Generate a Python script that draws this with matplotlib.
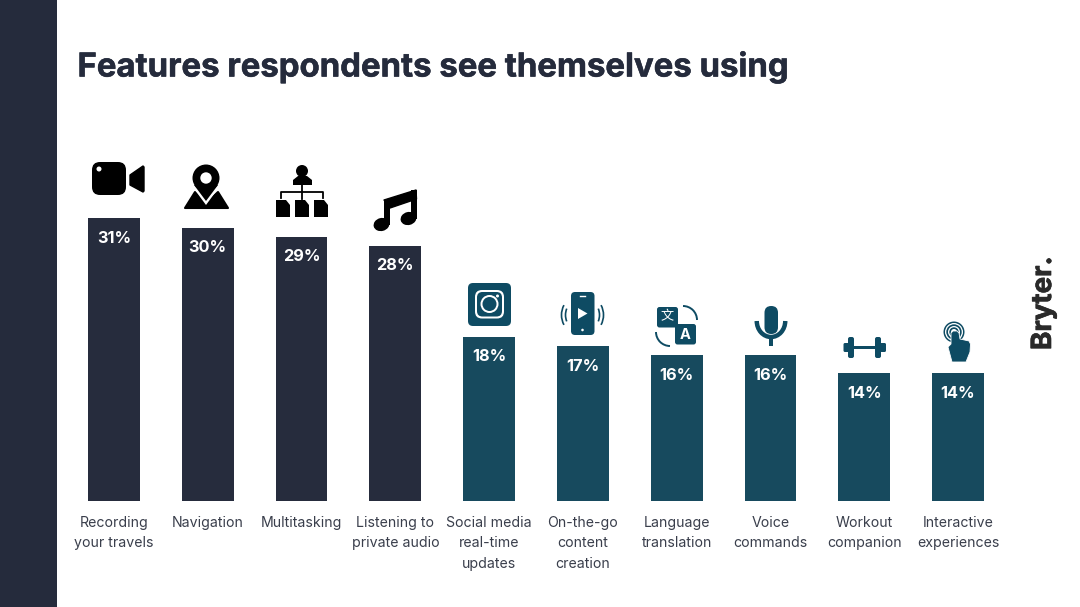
import numpy as np
import matplotlib
matplotlib.use('Agg')
import matplotlib.pyplot as plt
import matplotlib.patheffects as pe
from matplotlib.patches import Rectangle, FancyBboxPatch, Circle, Polygon, Arc, Ellipse

categories = ['Recording\nyour travels', 'Navigation', 'Multitasking', 'Listening to\nprivate audio',
              'Social media\nreal-time\nupdates', 'On-the-go\ncontent\ncreation', 'Language\ntranslation',
              'Voice\ncommands', 'Workout\ncompanion', 'Interactive\nexperiences']
values = [31, 30, 29, 28, 18, 17, 16, 16, 14, 14]
value_labels = ['31%', '30%', '29%', '28%', '18%', '17%', '16%', '16%', '14%', '14%']
bar_colors = ['#262c3d'] * 4 + ['#174a5e'] * 6

NAVY = '#252b3c'
TEAL = '#0e4b63'
W, H = 1080, 607


def rbox(ax, x, y, w, h, r, color, z=3):
    ax.add_patch(FancyBboxPatch((x + r, y + r), w - 2 * r, h - 2 * r, boxstyle='round,pad=%f,rounding_size=%f' % (r, r),
                                fc=color, ec='none', zorder=z))


def draw_camera(ax):
    rbox(ax, 92, 162, 34, 33, 8, 'black')
    ax.add_patch(Polygon([(130, 175), (143, 166), (144, 167), (144, 191), (143, 192), (130, 185)], fc='black', ec='black',
                         lw=1, joinstyle='round', zorder=3))
    ax.add_patch(Circle((99, 169), 2.5, fc='white', ec='none', zorder=4))


def draw_pin(ax):
    ax.add_patch(Polygon([(185, 208), (195, 192), (206, 203), (218, 192), (228, 208)], fc='black', ec='black', lw=1.5,
                         joinstyle='round', zorder=3))
    ax.add_patch(Polygon([(192, 186), (206, 205), (220, 186)], fc='white', ec='none', zorder=4))
    ax.add_patch(Polygon([(194, 185), (206, 201), (218, 185)], fc='black', ec='none', zorder=5))
    ax.add_patch(Circle((206, 178), 13.5, fc='black', ec='none', zorder=5))
    ax.add_patch(Circle((206, 178), 5.7, fc='white', ec='none', zorder=6))


def draw_org(ax):
    ax.add_patch(Circle((302, 171), 6, fc='black', ec='none', zorder=3))
    ax.add_patch(Polygon([(293, 185), (293, 180), (298, 176), (307, 176), (312, 180), (312, 185)], fc='black', ec='none', zorder=3))
    ax.plot([302, 302], [185, 199], color='black', lw=1.3, zorder=3)
    ax.plot([281, 281, 323, 323], [198, 192, 192, 198], color='black', lw=1.3, zorder=3)
    for x0 in [276, 295, 314]:
        ax.add_patch(Polygon([(x0, 200), (x0 + 10, 200), (x0 + 14, 205), (x0 + 14, 217), (x0, 217)], fc='black', ec='none', zorder=3))


def draw_note(ax):
    ax.add_patch(Polygon([(384, 200), (416, 190), (416.5, 199), (390, 208)], fc='black', ec='black', lw=1,
                         joinstyle='round', zorder=3))
    ax.add_patch(Rectangle((384, 200), 5.5, 25, fc='black', ec='none', zorder=3))
    ax.add_patch(Rectangle((411, 190), 5.5, 29, fc='black', ec='none', zorder=3))
    ax.add_patch(Ellipse((381.5, 224.5), 16, 13, angle=-15, fc='black', ec='none', zorder=3))
    ax.add_patch(Ellipse((408.5, 218.5), 16, 13, angle=-15, fc='black', ec='none', zorder=3))


def draw_insta(ax):
    rbox(ax, 468, 283, 43, 43, 5, TEAL)
    rbox(ax, 475, 290, 29, 28.5, 7, 'white', 4)
    rbox(ax, 477, 292, 25, 24.5, 5.5, TEAL, 5)
    ax.add_patch(Circle((489.5, 304), 9, fc='white', ec='none', zorder=6))
    ax.add_patch(Circle((489.5, 304), 7, fc=TEAL, ec='none', zorder=7))
    ax.add_patch(Circle((497.5, 296), 1.5, fc='white', ec='none', zorder=7))


def draw_phone(ax):
    rbox(ax, 571, 292, 23.5, 43, 4, TEAL)
    ax.add_patch(Polygon([(578, 308), (578, 319), (587.5, 313.5)], fc='white', ec='none', zorder=4))
    ax.plot([580, 585], [296, 296], color='white', lw=1, zorder=4)
    ax.add_patch(Circle((582.5, 330), 1.3, fc='white', ec='none', zorder=4))
    for r, a in [(17, 22), (21, 28)]:
        ax.add_patch(Arc((582.5, 315), r * 2, r * 2, theta1=180 - a, theta2=180 + a, color=TEAL, lw=1.2, zorder=3))
        ax.add_patch(Arc((582.5, 315), r * 2, r * 2, theta1=-a, theta2=a, color=TEAL, lw=1.2, zorder=3))


def draw_translate(ax):
    rbox(ax, 657, 307, 21, 20.5, 2.5, TEAL)
    rbox(ax, 675, 324, 21, 20.5, 2.5, TEAL, 4)
    ax.text(667.5, 317, '文', color='white', fontsize=9.5, ha='center', va='center', zorder=5,
            family=['Noto Sans CJK SC', 'DejaVu Sans'])
    ax.text(685.5, 335, 'A', color='white', fontsize=10.5, ha='center', va='center', zorder=5, weight='bold', family='Inter')
    ax.add_patch(Arc((683, 320), 28, 28, theta1=270, theta2=360, color=TEAL, lw=1.4, zorder=3))
    ax.add_patch(Arc((670, 332), 28, 28, theta1=90, theta2=180, color=TEAL, lw=1.4, zorder=3))


def draw_mic(ax):
    rbox(ax, 764.5, 306, 13.5, 28, 6.7, TEAL)
    ax.add_patch(Arc((771, 321), 28.5, 32, theta1=0, theta2=180, color=TEAL, lw=3.2, zorder=3))
    ax.add_patch(Rectangle((769, 336), 4, 9.5, fc=TEAL, ec='none', zorder=3))


def draw_dumbbell(ax):
    ax.add_patch(Rectangle((852, 345.5), 25, 3, fc=TEAL, ec='none', zorder=3))
    rbox(ax, 843.5, 343, 6, 9, 1.5, TEAL)
    rbox(ax, 848, 337, 6, 21, 2, TEAL)
    rbox(ax, 875, 337, 6, 21, 2, TEAL)
    rbox(ax, 880, 343, 6, 9, 1.5, TEAL)


def draw_touch(ax):
    for r, c in [(10.5, TEAL), (9, 'white'), (7.7, TEAL), (6, 'white'), (4.7, TEAL), (3, 'white')]:
        ax.add_patch(Circle((954, 332), r, fc=c, ec='none', zorder=3))
    ax.add_patch(Polygon([(951, 333), (953, 331), (957, 331), (959, 333), (960, 339), (969, 341), (970.5, 344), (970, 352),
                          (966, 362), (952, 362), (948, 347), (951, 344)], fc=TEAL, ec='white', lw=0.6, zorder=4))


fig = plt.figure(figsize=(W / 100, H / 100), dpi=100, facecolor='white')

# page layer in pixel coordinates, y down
page = fig.add_axes([0, 0, 1, 1])
page.set_xlim(0, W)
page.set_ylim(H, 0)
page.axis('off')
page.add_patch(Rectangle((0, 0), 57, H, fc=NAVY, ec='none'))
page.text(77.5, 67.5, 'Features respondents see themselves using', fontsize=23.7, weight='bold', color=NAVY,
          family='Inter', ha='left', va='center', path_effects=[pe.withStroke(linewidth=0.4, foreground=NAVY)])
page.text(1044, 350, 'Bryter.', fontsize=20, weight='bold', color='#2a2a2a', family='Inter', rotation=90,
          ha='center', va='bottom', path_effects=[pe.withStroke(linewidth=0.5, foreground='#2a2a2a')])

# bars
x_pos = np.arange(len(values))
ax = fig.add_axes([67.1 / W, (H - 501) / H, 937.8 / W, 282.5 / H])
ax.patch.set_alpha(0)
ax.set_xlim(-0.5, 9.5)
ax.set_ylim(0, 31)
ax.axis('off')
ax.bar(x_pos, values, width=0.553, color=bar_colors)
for x, v, s in zip(x_pos, values, value_labels):
    ax.annotate(s, (x, v), xytext=(0, -20 * 0.72), textcoords='offset points', ha='center', va='center',
                color='white', fontsize=11.8, weight='bold', family='Inter')
for x, c in zip(x_pos, categories):
    ax.annotate(c, (x, 0), xytext=(0, -15 * 0.72), textcoords='offset points', ha='center', va='top',
                color='#3a3f4c', fontsize=10.2, family='Inter', linespacing=1.57, annotation_clip=False)

# icons above the bars
overlay = fig.add_axes([0, 0, 1, 1])
overlay.patch.set_alpha(0)
overlay.set_xlim(0, W)
overlay.set_ylim(H, 0)
overlay.axis('off')
for draw in [draw_camera, draw_pin, draw_org, draw_note, draw_insta, draw_phone, draw_translate, draw_mic,
             draw_dumbbell, draw_touch]:
    draw(overlay)

fig.savefig('out.png', dpi=100, facecolor='white')
